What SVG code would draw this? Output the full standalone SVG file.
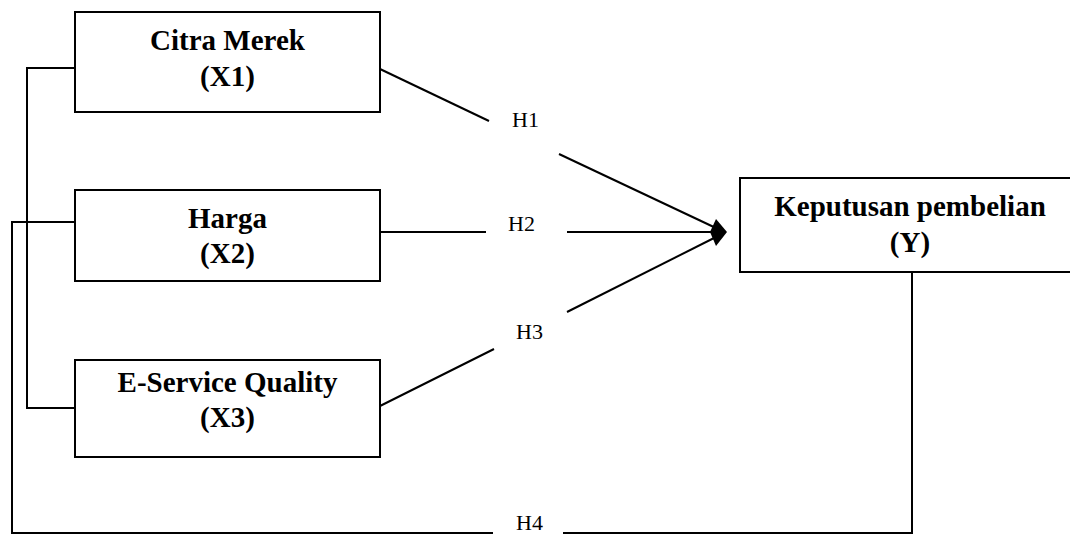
<svg xmlns="http://www.w3.org/2000/svg" width="1070" height="535" viewBox="0 0 1070 535">
<style>
.box{fill:#fff;stroke:#000;stroke-width:2}
.ln{fill:none;stroke:#000;stroke-width:2}
.t{font-family:"Liberation Serif","Times New Roman",serif;font-weight:bold;font-size:29px;text-anchor:middle;fill:#000}
.h{font-family:"Liberation Serif","Times New Roman",serif;font-size:22px;fill:#000}
</style>
<rect width="1070" height="535" fill="#fff"/>
<g id="connectors">
<polyline class="ln" points="75,68 27,68 27,408 75,408"/>
<polyline class="ln" points="75,222 12,222 12,533 493,533"/>
<polyline class="ln" points="563,533 912,533 912,272"/>
<line class="ln" x1="380" y1="69" x2="489" y2="121"/>
<line class="ln" x1="559" y1="154" x2="718" y2="229"/>
<line class="ln" x1="380" y1="232" x2="486" y2="232"/>
<line class="ln" x1="567" y1="232" x2="718" y2="232"/>
<line class="ln" x1="380" y1="406" x2="494" y2="349"/>
<line class="ln" x1="567" y1="312" x2="718" y2="236"/>
<polygon points="710,232 716,219 727,232 716,246" fill="#000"/>
<text class="h" x="512" y="127">H1</text>
<text class="h" x="508" y="231">H2</text>
<text class="h" x="516" y="339">H3</text>
<text class="h" x="516" y="530">H4</text>
</g>
<g id="x1">
<rect class="box" x="75" y="12" width="305" height="100"/>
<text class="t" x="227.5" y="50">Citra Merek</text>
<text class="t" x="227.5" y="86">(X1)</text>
</g>
<g id="x2">
<rect class="box" x="75" y="190" width="305" height="91"/>
<text class="t" x="227.5" y="228">Harga</text>
<text class="t" x="227.5" y="263">(X2)</text>
</g>
<g id="x3">
<rect class="box" x="75" y="360" width="305" height="97"/>
<text class="t" x="227.5" y="392">E-Service Quality</text>
<text class="t" x="227.5" y="427">(X3)</text>
</g>
<g id="y">
<rect class="box" x="740" y="178" width="340" height="94"/>
<text class="t" x="910" y="216">Keputusan pembelian</text>
<text class="t" x="910" y="252">(Y)</text>
</g>
</svg>
